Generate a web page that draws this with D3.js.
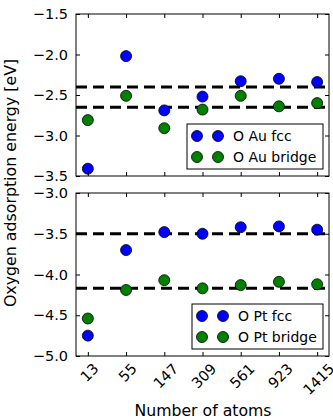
<!DOCTYPE html>
<html>
<head>
<meta charset="utf-8">
<script src="https://cdn.jsdelivr.net/npm/d3@7"></script>
<style>
  body { margin: 0; background: #fff; }
  text { font-family: "DejaVu Sans", sans-serif; }
</style>
</head>
<body>
<div id="chart"></div>
<script>
// Données
const atoms = ["13", "55", "147", "309", "561", "923", "1415"];
const auFcc = [-3.41, -2.02, -2.69, -2.52, -2.33, -2.30, -2.34];
const auBridge = [-2.81, -2.51, -2.91, -2.68, -2.51, -2.64, -2.60];
const auRefs = [-2.40, -2.65];
const ptFcc = [-4.75, -3.70, -3.48, -3.50, -3.42, -3.41, -3.45];
const ptBridge = [-4.54, -4.19, -4.07, -4.17, -4.13, -4.09, -4.12];
const ptRefs = [-3.50, -4.17];
const auTicks = [-1.5, -2.0, -2.5, -3.0, -3.5];
const ptTicks = [-3.0, -3.5, -4.0, -4.5, -5.0];

const width = 333, height = 419;
const left = 76, right = 329;

const svg = d3.select("#chart").append("svg")
  .attr("width", width).attr("height", height);

const x = d3.scaleLinear().domain([-0.31, 6.31]).range([left, right]);
const fmt = d => d3.format(".1f")(d).replace("-", "\u2212");

function panel(top, bottom, domain, ticks, s1, s2, refs, labels) {
  const y = d3.scaleLinear().domain(domain).range([top, bottom]);
  const g = svg.append("g");

  // lignes pointillées
  refs.forEach(r => {
    g.append("line")
      .attr("x1", left).attr("x2", right)
      .attr("y1", y(r)).attr("y2", y(r))
      .attr("stroke", "#000").attr("stroke-width", 3)
      .attr("stroke-dasharray", "11,6");
  });

  // points
  [[s2, "#008000"], [s1, "#0000ff"]].forEach(([s, c]) => {
    g.selectAll(null).data(s).enter().append("circle")
      .attr("cx", (d, i) => x(i)).attr("cy", d => y(d))
      .attr("r", 5.5)
      .attr("fill", c).attr("stroke", "#000").attr("stroke-width", 0.8);
  });

  // axes
  g.append("g").attr("transform", `translate(${left},0)`)
    .call(d3.axisLeft(y).tickValues(ticks).tickSizeInner(-4).tickSizeOuter(0).tickPadding(8).tickFormat(fmt))
    .call(a => a.select(".domain").remove())
    .call(a => a.selectAll("text").attr("font-size", 14.5).attr("fill", "#000"));
  g.append("g").attr("transform", `translate(${right},0)`)
    .call(d3.axisRight(y).tickValues(ticks).tickSizeInner(-4).tickSizeOuter(0).tickFormat(""))
    .call(a => a.select(".domain").remove());
  g.append("g").attr("transform", `translate(0,${top})`)
    .call(d3.axisTop(x).tickValues(d3.range(7)).tickSizeInner(-4).tickSizeOuter(0).tickFormat(""))
    .call(a => a.select(".domain").remove());
  const xb = g.append("g").attr("transform", `translate(0,${bottom})`)
    .call(d3.axisBottom(x).tickValues(d3.range(7)).tickSizeInner(-4).tickSizeOuter(0)
      .tickFormat(i => labels ? atoms[i] : ""))
    .call(a => a.select(".domain").remove());
  if (labels) {
    // étiquettes tournées à 45°, centrées sous la graduation
    xb.selectAll("text")
      .attr("font-size", 14.5).attr("fill", "#000")
      .attr("text-anchor", "middle")
      .attr("y", 0).attr("dy", "0.35em")
      .attr("transform", function() {
        const w = this.getComputedTextLength();
        const cy = 4 + (w + 17) / (2 * Math.SQRT2);
        return `translate(1,${cy}) rotate(-45)`;
      });
  }

  g.append("rect")
    .attr("x", left).attr("y", top)
    .attr("width", right - left).attr("height", bottom - top)
    .attr("fill", "none").attr("stroke", "#000").attr("stroke-width", 1);
  return y;
}

function legend(x0, y0, w, h, names) {
  const lg = svg.append("g").attr("transform", `translate(${x0},${y0})`);
  lg.append("rect").attr("width", w).attr("height", h)
    .attr("fill", "#fff").attr("stroke", "#000").attr("stroke-width", 1);
  [["#0000ff", names[0]], ["#008000", names[1]]].forEach(([c, n], i) => {
    const yy = 12 + i * 21;
    [10, 31].forEach(cx => lg.append("circle").attr("cx", cx).attr("cy", yy).attr("r", 5.5)
      .attr("fill", c).attr("stroke", "#000").attr("stroke-width", 0.8));
    lg.append("text").attr("x", 46).attr("y", yy + 5).attr("font-size", 14).text(n);
  });
}

panel(14, 176, [-1.5, -3.5], auTicks, auFcc, auBridge, auRefs, false);
panel(193, 356, [-3.0, -5.0], ptTicks, ptFcc, ptBridge, ptRefs, true);

legend(187, 124, 136, 45, ["O Au fcc", "O Au bridge"]);
legend(192, 304, 131, 45, ["O Pt fcc", "O Pt bridge"]);

svg.append("text")
  .attr("transform", `translate(16,183) rotate(-90)`)
  .attr("text-anchor", "middle").attr("font-size", 15.8)
  .text("Oxygen adsorption energy [eV]");

svg.append("text")
  .attr("x", 203).attr("y", 416)
  .attr("text-anchor", "middle").attr("font-size", 15.7)
  .text("Number of atoms");
</script>
</body>
</html>
